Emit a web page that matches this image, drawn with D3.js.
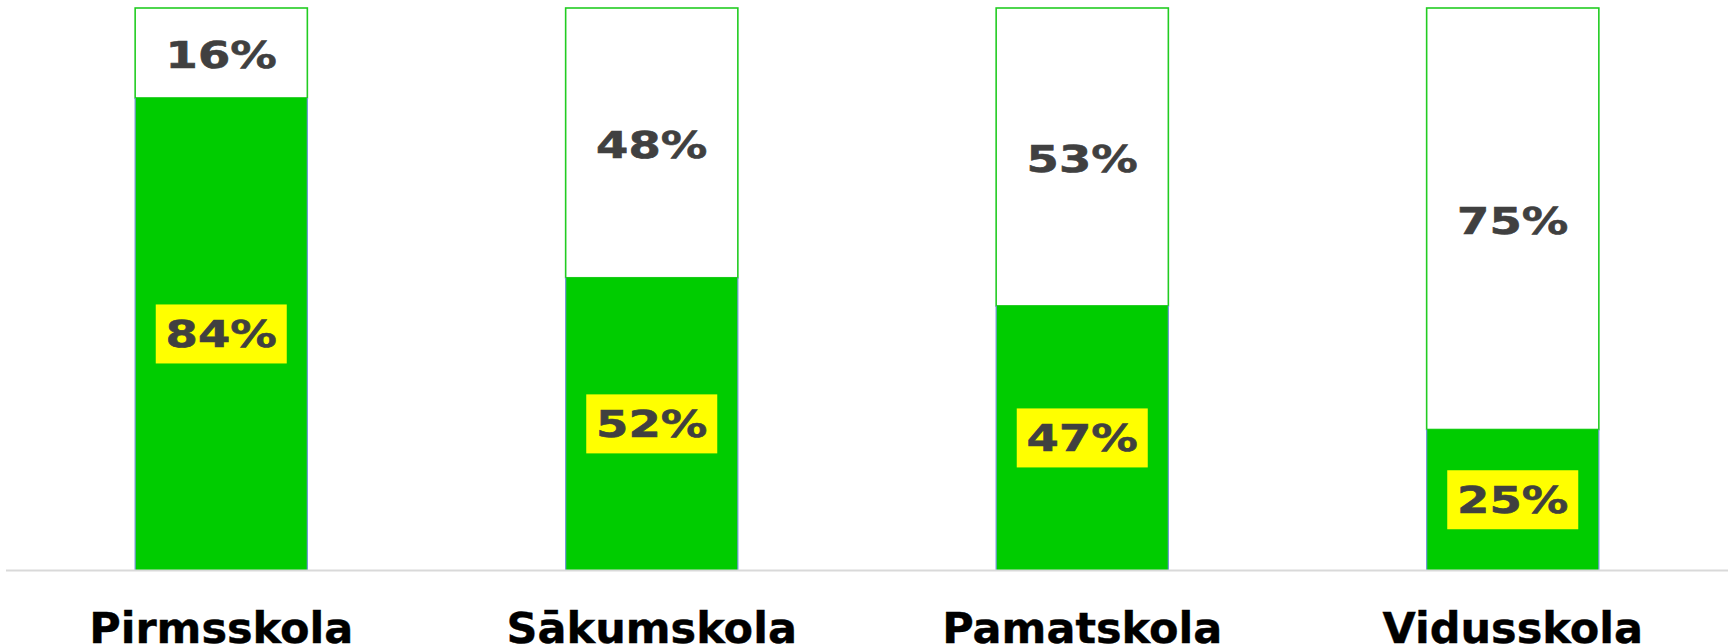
<!DOCTYPE html>
<html>
<head>
<meta charset="utf-8">
<script src="https://cdn.jsdelivr.net/npm/d3@7"></script>
<style>
  html, body { margin: 0; padding: 0; background: #ffffff; }
  svg { display: block; }
</style>
</head>
<body>
<svg id="chart" width="1734" height="644"></svg>
<script>
const categories = ["Pirmsskola", "Sākumskola", "Pamatskola", "Vidusskola"];
const yesValues = [84, 52, 47, 25];   // green (lower) segment, %
const noValues  = [16, 48, 53, 75];   // white (upper) segment, %

const W = 1734, H = 644;
const svg = d3.select("#chart");

const x = d3.scaleBand()
  .domain(categories)
  .range([6, 1728])
  .paddingInner(0.6)
  .paddingOuter(0.3);

const y = d3.scaleLinear().domain([0, 100]).range([570, 8]);

const data = categories.map((c, i) => ({ cat: c, yes: yesValues[i], no: noValues[i] }));

const g = svg.append("g");

// white upper segments (green outline)
g.selectAll("rect.no").data(data).join("rect")
  .attr("class", "no")
  .attr("x", d => x(d.cat))
  .attr("width", x.bandwidth())
  .attr("y", d => y(d.yes + d.no))
  .attr("height", d => y(d.yes) - y(d.yes + d.no))
  .attr("fill", "#ffffff")
  .attr("stroke", "#22cc22")
  .attr("stroke-width", 1.6);

// green lower segments
g.selectAll("rect.yes").data(data).join("rect")
  .attr("class", "yes")
  .attr("x", d => x(d.cat))
  .attr("width", x.bandwidth())
  .attr("y", d => y(d.yes))
  .attr("height", d => y(0) - y(d.yes))
  .attr("fill", "#00cc00");

// thin bluish side edges of green segments
data.forEach(d => {
  [x(d.cat), x(d.cat) + x.bandwidth()].forEach(xx => {
    g.append("line")
      .attr("x1", xx).attr("x2", xx)
      .attr("y1", y(d.yes)).attr("y2", y(0))
      .attr("stroke", "#6f96d4").attr("stroke-width", 1.2);
  });
});

// baseline
svg.append("line")
  .attr("x1", 6).attr("x2", 1728)
  .attr("y1", y(0) + 0.5).attr("y2", y(0) + 0.5)
  .attr("stroke", "#d9d9d9").attr("stroke-width", 2);

const fontFam = "'DejaVu Sans', Verdana, sans-serif";
const labelSize = 37.5;
const sx = 1.24;

// yellow boxes + labels for green segments
data.forEach(d => {
  const cx = x(d.cat) + x.bandwidth() / 2;
  const cy = (y(d.yes) + y(0)) / 2;
  svg.append("rect")
    .attr("x", cx - 65.5).attr("y", cy - 29.5)
    .attr("width", 131).attr("height", 59)
    .attr("fill", "#ffff00");
  svg.append("text")
    .attr("transform", `translate(${cx},${cy}) scale(${sx},1)`)
    .attr("text-anchor", "middle")
    .attr("dy", "0.36em")
    .attr("font-family", fontFam)
    .attr("font-weight", "bold")
    .attr("font-size", labelSize)
    .attr("fill", "#404040")
    .attr("stroke", "#404040")
    .attr("stroke-width", 0.6)
    .text(d.yes + "%");
});

// labels for white segments
data.forEach(d => {
  const cx = x(d.cat) + x.bandwidth() / 2;
  const cy = (y(d.yes + d.no) + y(d.yes)) / 2 + 2;
  svg.append("text")
    .attr("transform", `translate(${cx},${cy}) scale(${sx},1)`)
    .attr("text-anchor", "middle")
    .attr("dy", "0.36em")
    .attr("font-family", fontFam)
    .attr("font-weight", "bold")
    .attr("font-size", labelSize)
    .attr("fill", "#404040")
    .attr("stroke", "#404040")
    .attr("stroke-width", 0.6)
    .text(d.no + "%");
});

// category labels
const xAxis = d3.axisBottom(x).tickSize(0).tickPadding(0);
const ax = svg.append("g").call(xAxis);
ax.select(".domain").remove();
ax.selectAll("text")
  .attr("y", 643)
  .attr("dy", 0)
  .attr("font-family", fontFam)
  .attr("font-weight", "bold")
  .attr("font-size", 43)
  .attr("fill", "#000000")
  .attr("stroke", "#000000")
  .attr("stroke-width", 0.4);
</script>
</body>
</html>
